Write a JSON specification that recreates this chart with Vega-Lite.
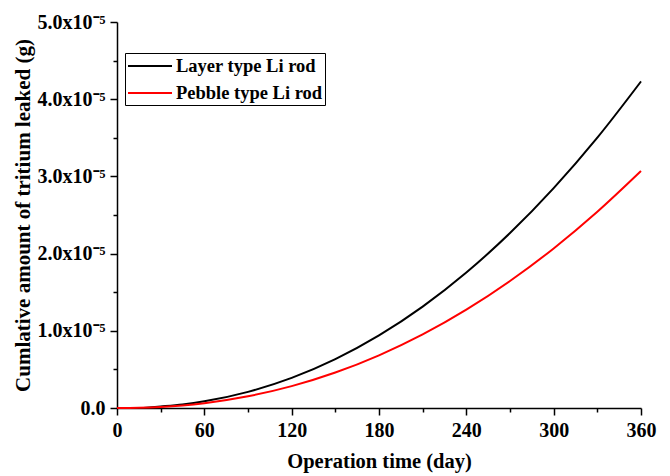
{
  "$schema": "https://vega.github.io/schema/vega-lite/v6.json",
  "width": 524,
  "height": 386,
  "autosize": {"type": "none"},
  "padding": {"left": 117, "top": 22, "right": 29, "bottom": 68},
  "background": "white",
  "config": {
    "view": {"stroke": null},
    "font": "Liberation Serif"
  },
  "data": {
    "values": [
      {"t": 18, "y": 0.0, "s": "Layer type Li rod"},
      {"t": 30, "y": 0.0193e-5, "s": "Layer type Li rod"},
      {"t": 45, "y": 0.0465e-5, "s": "Layer type Li rod"},
      {"t": 60, "y": 0.0866e-5, "s": "Layer type Li rod"},
      {"t": 90, "y": 0.209e-5, "s": "Layer type Li rod"},
      {"t": 120, "y": 0.390e-5, "s": "Layer type Li rod"},
      {"t": 150, "y": 0.633e-5, "s": "Layer type Li rod"},
      {"t": 180, "y": 0.940e-5, "s": "Layer type Li rod"},
      {"t": 210, "y": 1.313e-5, "s": "Layer type Li rod"},
      {"t": 240, "y": 1.755e-5, "s": "Layer type Li rod"},
      {"t": 270, "y": 2.266e-5, "s": "Layer type Li rod"},
      {"t": 300, "y": 2.848e-5, "s": "Layer type Li rod"},
      {"t": 330, "y": 3.502e-5, "s": "Layer type Li rod"},
      {"t": 360, "y": 4.230e-5, "s": "Layer type Li rod"},
      {"t": 0, "y": 0.0, "s": "Pebble type Li rod"},
      {"t": 15, "y": 0.0031e-5, "s": "Pebble type Li rod"},
      {"t": 30, "y": 0.0140e-5, "s": "Pebble type Li rod"},
      {"t": 45, "y": 0.0337e-5, "s": "Pebble type Li rod"},
      {"t": 60, "y": 0.0629e-5, "s": "Pebble type Li rod"},
      {"t": 90, "y": 0.152e-5, "s": "Pebble type Li rod"},
      {"t": 120, "y": 0.283e-5, "s": "Pebble type Li rod"},
      {"t": 150, "y": 0.459e-5, "s": "Pebble type Li rod"},
      {"t": 180, "y": 0.682e-5, "s": "Pebble type Li rod"},
      {"t": 210, "y": 0.953e-5, "s": "Pebble type Li rod"},
      {"t": 240, "y": 1.274e-5, "s": "Pebble type Li rod"},
      {"t": 270, "y": 1.645e-5, "s": "Pebble type Li rod"},
      {"t": 300, "y": 2.067e-5, "s": "Pebble type Li rod"},
      {"t": 330, "y": 2.542e-5, "s": "Pebble type Li rod"},
      {"t": 360, "y": 3.070e-5, "s": "Pebble type Li rod"}
    ]
  },
  "layer": [
    {
      "mark": {"type": "line", "opacity": 0},
      "encoding": {
        "x": {
          "field": "t",
          "type": "quantitative",
          "scale": {"domain": [0, 360], "nice": false, "zero": false},
          "axis": {
            "orient": "bottom",
            "title": null,
            "values": [30, 90, 150, 210, 270, 330],
            "labels": false,
            "domain": false,
            "grid": false,
            "tickColor": "#000000",
            "tickWidth": 1.5,
            "tickSize": 4
          }
        },
        "y": {
          "field": "y",
          "type": "quantitative",
          "scale": {"domain": [0, 5e-5], "nice": false},
          "axis": {
            "orient": "left",
            "title": null,
            "values": [0.5e-5, 1.5e-5, 2.5e-5, 3.5e-5, 4.5e-5],
            "labels": false,
            "domain": false,
            "grid": false,
            "tickColor": "#000000",
            "tickWidth": 1.5,
            "tickSize": 4
          }
        },
        "detail": {"field": "s", "type": "nominal"}
      }
    },
    {
      "mark": {"type": "line", "interpolate": "monotone", "strokeWidth": 2},
      "encoding": {
        "x": {
          "field": "t",
          "type": "quantitative",
          "axis": {
            "orient": "bottom",
            "title": "Operation time (day)",
            "values": [0, 60, 120, 180, 240, 300, 360],
            "grid": false,
            "domainColor": "#000000",
            "domainWidth": 1.5,
            "tickColor": "#000000",
            "tickWidth": 1.5,
            "tickSize": 7,
            "labelFont": "Liberation Serif",
            "labelFontSize": 20,
            "labelFontWeight": "bold",
            "labelColor": "#000000",
            "labelPadding": 5,
            "labelFlush": false,
            "labelOverlap": false,
            "titleFont": "Liberation Serif",
            "titleFontSize": 20.5,
            "titleFontWeight": "bold",
            "titleColor": "#000000",
            "titlePadding": 11
          }
        },
        "y": {
          "field": "y",
          "type": "quantitative",
          "axis": {
            "orient": "left",
            "title": "Cumlative amount of tritium leaked (g)",
            "values": [0, 1e-5, 2e-5, 3e-5, 4e-5, 5e-5],
            "labelExpr": "datum.value === 0 ? '0.0' : format(datum.value * 1e5, '.1f') + 'x10⁻⁵'",
            "grid": false,
            "domainColor": "#000000",
            "domainWidth": 1.5,
            "tickColor": "#000000",
            "tickWidth": 1.5,
            "tickSize": 7,
            "labelFont": "Liberation Serif",
            "labelFontSize": 20,
            "labelFontWeight": "bold",
            "labelColor": "#000000",
            "labelPadding": 5,
            "labelFlush": false,
            "labelOverlap": false,
            "titleFont": "Liberation Serif",
            "titleFontSize": 21,
            "titleFontWeight": "bold",
            "titleColor": "#000000",
            "titlePadding": 4
          }
        },
        "color": {
          "field": "s",
          "type": "nominal",
          "scale": {"domain": ["Layer type Li rod", "Pebble type Li rod"], "range": ["#000000", "#ff0000"]},
          "legend": {
            "title": null,
            "orient": "none",
            "legendX": 8,
            "legendY": 31,
            "symbolType": "M-1,0H3.4",
            "symbolSize": 400,
            "symbolStrokeWidth": 2,
            "labelFont": "Liberation Serif",
            "labelFontSize": 18.5,
            "labelFontWeight": "bold",
            "labelColor": "#000000",
            "labelOffset": 27,
            "rowPadding": 6,
            "strokeColor": "#000000",
            "padding": 2,
            "fillColor": "white"
          }
        }
      }
    }
  ],
  "resolve": {"axis": {"x": "independent", "y": "independent"}}
}
